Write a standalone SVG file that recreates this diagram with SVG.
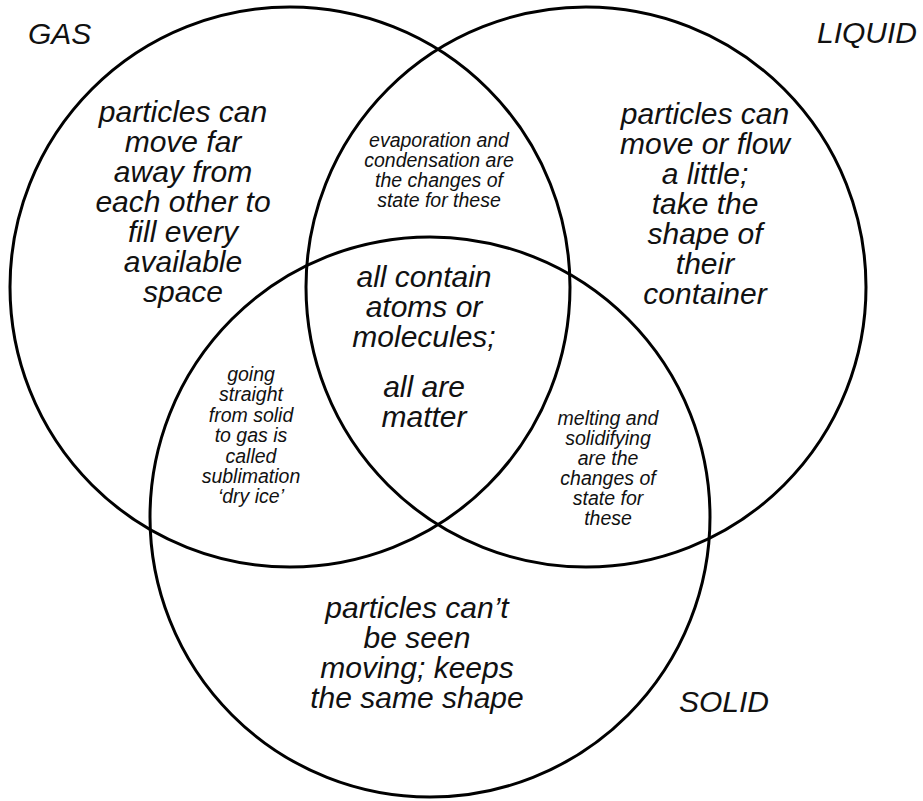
<svg xmlns="http://www.w3.org/2000/svg" width="923" height="801" viewBox="0 0 923 801">
<style>
  .c { fill: none; stroke: #000; stroke-width: 3; }
  text { font-family: "Liberation Sans", Arial, Helvetica, sans-serif; font-style: italic; fill: #111; text-anchor: middle; }
  .lbl { font-size: 30px; text-anchor: start; }
  .big { font-size: 30px; }
  .sm { font-size: 19.5px; }
</style>
<rect width="923" height="801" fill="#fff"/>
<g id="circles">
  <circle id="gas-circle" class="c" cx="290" cy="287" r="280"/>
  <circle id="liquid-circle" class="c" cx="586" cy="287" r="280"/>
  <circle id="solid-circle" class="c" cx="430" cy="517" r="280"/>
</g>
<g id="labels">
  <text class="lbl" x="28" y="44">GAS</text>
  <text class="lbl" x="817" y="43">LIQUID</text>
  <text class="lbl" x="679" y="712">SOLID</text>
</g>
<g id="gas-only">
  <text class="big" x="183" y="122">particles can</text>
  <text class="big" x="183" y="152">move far</text>
  <text class="big" x="183" y="182">away from</text>
  <text class="big" x="183" y="212">each other to</text>
  <text class="big" x="183" y="242">fill every</text>
  <text class="big" x="183" y="272">available</text>
  <text class="big" x="183" y="302">space</text>
</g>
<g id="liquid-only">
  <text class="big" x="705" y="124">particles can</text>
  <text class="big" x="705" y="154">move or flow</text>
  <text class="big" x="705" y="184">a little;</text>
  <text class="big" x="705" y="214">take the</text>
  <text class="big" x="705" y="244">shape of</text>
  <text class="big" x="705" y="274">their</text>
  <text class="big" x="705" y="304">container</text>
</g>
<g id="solid-only">
  <text class="big" x="417" y="618">particles can’t</text>
  <text class="big" x="417" y="648">be seen</text>
  <text class="big" x="417" y="678">moving; keeps</text>
  <text class="big" x="417" y="708">the same shape</text>
</g>
<g id="gas-liquid">
  <text class="sm" x="439" y="147">evaporation and</text>
  <text class="sm" x="439" y="167">condensation are</text>
  <text class="sm" x="439" y="187">the changes of</text>
  <text class="sm" x="439" y="207">state for these</text>
</g>
<g id="gas-solid">
  <text class="sm" x="251" y="380.5">going</text>
  <text class="sm" x="251" y="401">straight</text>
  <text class="sm" x="251" y="421.5">from solid</text>
  <text class="sm" x="251" y="442">to gas is</text>
  <text class="sm" x="251" y="462.5">called</text>
  <text class="sm" x="251" y="483">sublimation</text>
  <text class="sm" x="251" y="503">‘dry ice’</text>
</g>
<g id="liquid-solid">
  <text class="sm" x="608" y="425">melting and</text>
  <text class="sm" x="608" y="445">solidifying</text>
  <text class="sm" x="608" y="465">are the</text>
  <text class="sm" x="608" y="485">changes of</text>
  <text class="sm" x="608" y="505">state for</text>
  <text class="sm" x="608" y="525">these</text>
</g>
<g id="all-three">
  <text class="big" x="424" y="287">all contain</text>
  <text class="big" x="424" y="317">atoms or</text>
  <text class="big" x="424" y="347">molecules;</text>
  <text class="big" x="424" y="397">all are</text>
  <text class="big" x="424" y="427">matter</text>
</g>
</svg>
